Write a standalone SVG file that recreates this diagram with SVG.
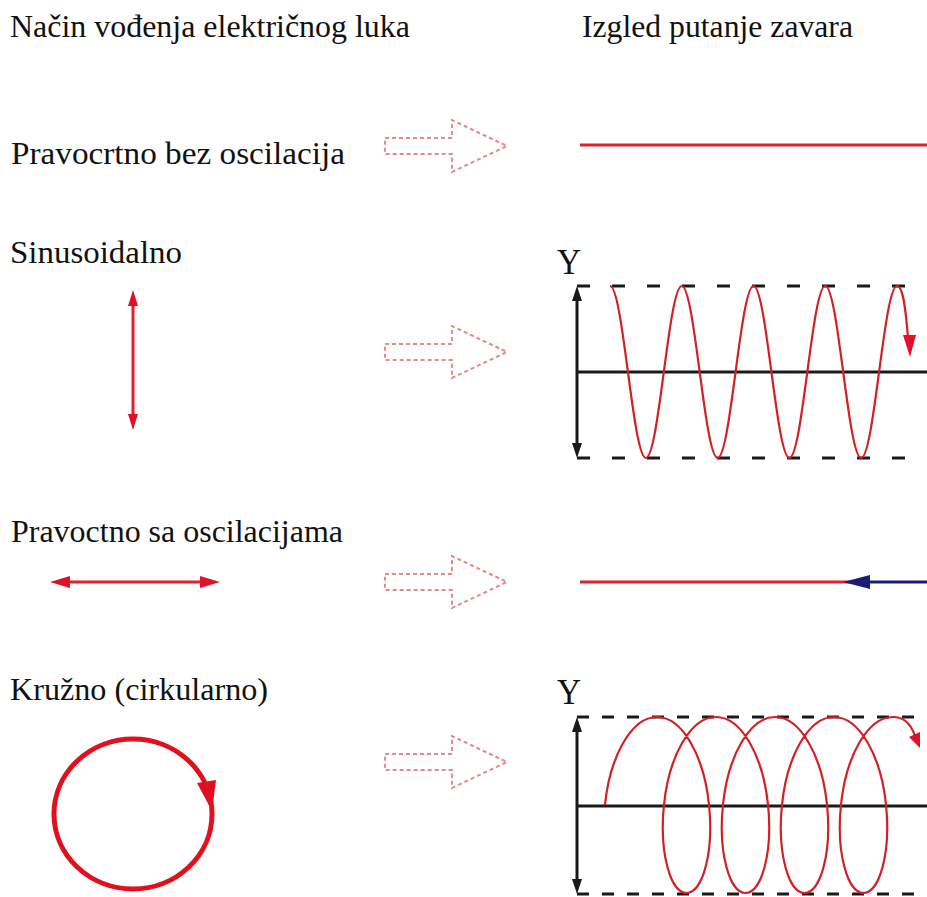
<svg xmlns="http://www.w3.org/2000/svg" width="927" height="897" viewBox="0 0 927 897">
<style>
.t{font-family:"Liberation Serif","Times New Roman",serif;font-size:31px;fill:#111}
.y{font-family:"Liberation Serif","Times New Roman",serif;font-size:36px;fill:#111}
.da{fill:none;stroke:#e58a8a;stroke-width:2;stroke-dasharray:4 3}
.red{stroke:#e0202a;stroke-width:3;fill:none}
.redf{fill:#e0102a}
.blk{stroke:#1a1a1a;stroke-width:3;fill:none}
.blkf{fill:#1a1a1a}
.wave{stroke:#d42025;stroke-width:2.2;fill:none}
</style>
<defs>
<path id="darrow" d="M385,-8 H452 V-26 L507,0 L452,26 V8 H385 Z"/>
</defs>
<rect width="927" height="897" fill="#fff"/>
<g id="headers">
<text class="t" x="10" y="37" textLength="400" lengthAdjust="spacingAndGlyphs">Način vođenja električnog luka</text>
<text class="t" x="582" y="37" textLength="271" lengthAdjust="spacingAndGlyphs">Izgled putanje zavara</text>
</g>
<g id="row1">
<text class="t" x="11" y="164" textLength="334" lengthAdjust="spacingAndGlyphs">Pravocrtno bez oscilacija</text>
<use href="#darrow" class="da" transform="translate(0,146)"/>
<line class="red" x1="580" y1="145" x2="927" y2="145"/>
</g>
<g id="row2">
<text class="t" x="10" y="263" textLength="172" lengthAdjust="spacingAndGlyphs">Sinusoidalno</text>
<line class="red" x1="133" y1="300" x2="133" y2="420"/>
<polygon class="redf" points="133,290 128,306 138,306"/>
<polygon class="redf" points="133,430 128,414 138,414"/>
<use href="#darrow" class="da" transform="translate(0,352)"/>
<text class="y" x="557" y="274" textLength="24" lengthAdjust="spacingAndGlyphs">Y</text>
<line class="blk" x1="577" y1="296" x2="577" y2="448"/>
<polygon class="blkf" points="577,286 572,301 582,301"/>
<polygon class="blkf" points="577,458 572,443 582,443"/>
<line class="blk" x1="577" y1="286" x2="927" y2="286" stroke-dasharray="13 22"/>
<line class="blk" x1="577" y1="458" x2="927" y2="458" stroke-dasharray="13 22"/>
<line class="blk" x1="577" y1="372" x2="927" y2="372"/>
<path class="wave" d="M610,286 C623.04,286 632.84,458 645.875,458 S668.71,286 681.75,286 S704.59,458 717.625,458 S740.46,286 753.5,286 S776.34,458 789.375,458 S812.21,286 825.25,286 S848.09,458 861.125,458 S883.96,286 897,286 C902,286 905,300 908,338"/>
<polygon class="redf" points="910,357 903,335 916,335"/>
</g>
<g id="row3">
<text class="t" x="11" y="542" textLength="332" lengthAdjust="spacingAndGlyphs">Pravoctno sa oscilacijama</text>
<line class="red" x1="62" y1="582" x2="208" y2="582"/>
<polygon class="redf" points="50,582 70,576 70,588"/>
<polygon class="redf" points="220,582 200,576 200,588"/>
<use href="#darrow" class="da" transform="translate(0,582)"/>
<line class="red" x1="580" y1="582" x2="850" y2="582"/>
<line x1="866" y1="582" x2="927" y2="582" stroke="#1c1c78" stroke-width="3"/>
<polygon fill="#1c1c78" points="843,582 870,575 870,589"/>
</g>
<g id="row4">
<text class="t" x="10" y="700" textLength="258" lengthAdjust="spacingAndGlyphs">Kružno (cirkularno)</text>
<ellipse cx="133" cy="814" rx="79" ry="75" fill="none" stroke="#e0101e" stroke-width="5"/>
<polygon fill="#e0101e" points="197,783 216,780 212,811"/>
<use href="#darrow" class="da" transform="translate(0,762)"/>
<text class="y" x="557" y="704" textLength="24" lengthAdjust="spacingAndGlyphs">Y</text>
<line class="blk" x1="577" y1="727" x2="577" y2="884"/>
<polygon class="blkf" points="577,717 572,732 582,732"/>
<polygon class="blkf" points="577,894 572,879 582,879"/>
<line class="blk" x1="577" y1="717" x2="927" y2="717" stroke-dasharray="12 13"/>
<line class="blk" x1="577" y1="894" x2="927" y2="894" stroke-dasharray="12 13"/>
<line class="blk" x1="577" y1="806" x2="927" y2="806"/>
<path class="wave" d="M604.95,805 C609.87,756.4 631.48,717 657,717 S704.13,756.4 709.05,805 S702.18,893 686.5,893 S659.03,853.6 663.95,805 S690.48,717 716,717 S763.13,756.4 768.05,805 S761.18,893 745.5,893 S718.03,853.6 722.95,805 S749.48,717 775,717 S822.13,756.4 827.05,805 S820.18,893 804.5,893 S777.03,853.6 781.95,805 S808.48,717 834,717 S881.13,756.4 886.05,805 S879.18,893 863.5,893 S836.03,853.6 840.95,805 S867.48,717 893,717 C904,717 911,724 915,736"/>
<polygon class="redf" points="920,748 909,737 920,732"/>
</g>
</svg>
